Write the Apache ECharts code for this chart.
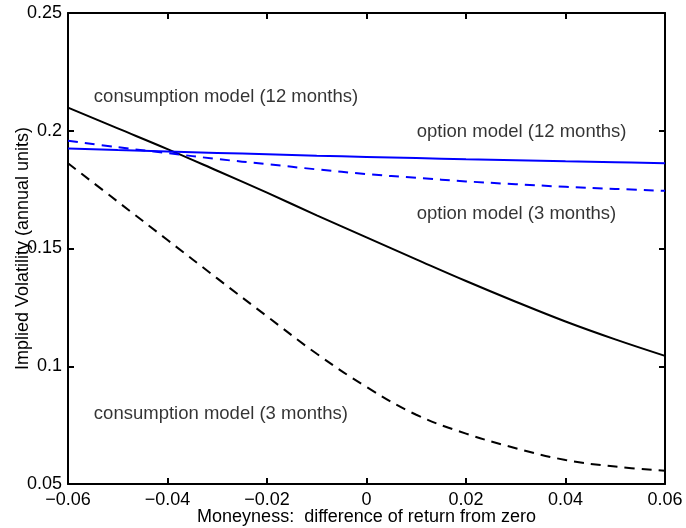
<!DOCTYPE html>
<html>
<head>
<meta charset="utf-8">
<script src="https://cdn.jsdelivr.net/npm/echarts@6/dist/echarts.min.js"></script>
<style>
html,body{margin:0;padding:0;background:#fff;}
#c{width:686px;height:528px;}
</style>
</head>
<body>
<div id="c"></div>
<script>
// ---- data ----
const moneyness = [-0.06, -0.05, -0.04, -0.03, -0.02, -0.01, 0, 0.01, 0.02, 0.03, 0.04, 0.05, 0.06];
const consumption12 = [0.2098, 0.2010, 0.1922, 0.1830, 0.1737, 0.1641, 0.1547, 0.1454, 0.1362, 0.1274, 0.1190, 0.1114, 0.1044];
const consumption3  = [0.1862, 0.1699, 0.1536, 0.1373, 0.1212, 0.1053, 0.0912, 0.0794, 0.0714, 0.0652, 0.0602, 0.0574, 0.0556];
const option12      = [0.1925, 0.1918, 0.1912, 0.1906, 0.1900, 0.1894, 0.1889, 0.1884, 0.1879, 0.1875, 0.1870, 0.1866, 0.1862];
const option3       = [0.1958, 0.1930, 0.1905, 0.1880, 0.1858, 0.1836, 0.1816, 0.1800, 0.1785, 0.1773, 0.1762, 0.1753, 0.1745];
const annotationText = ['consumption model (12 months)', 'option model (12 months)', 'option model (3 months)', 'consumption model (3 months)'];
const annotationX = [-0.0548, 0.0101, 0.0101, -0.0548];
const annotationY = [0.2143, 0.1993, 0.1647, 0.0796];
const xTitle = 'Moneyness:  difference of return from zero';
const yTitle = 'Implied Volatility (annual units)';

const FONT = '"Liberation Sans", Arial, Helvetica, sans-serif';
const FS = 18;
const FS_NOTE = 18.5;

function pairs(ys) { return moneyness.map((x, i) => [x, ys[i]]); }
function fmtTick(v) {
  const r = Math.round(v * 100) / 100;
  return String(r).replace('-', '\u2212');
}

const chart = echarts.init(document.getElementById('c'), null, {renderer: 'canvas'});

const axisLineStyle = {color: '#000', width: 2};
const tickCommon = {show: true, inside: true, length: 6, lineStyle: {color: '#000', width: 2}};

const option = {
  animation: false,
  backgroundColor: '#fff',
  textStyle: {fontFamily: FONT},
  grid: {left: 68, right: 21, top: 13, bottom: 44, containLabel: false, outerBoundsMode: 'none'},
  xAxis: [
    {
      type: 'value', min: -0.06, max: 0.06, interval: 0.02, position: 'bottom',
      name: xTitle, nameLocation: 'middle', nameGap: 24, nameMoveOverlap: false,
      nameTextStyle: {color: '#000', fontSize: FS, fontFamily: FONT},
      axisLine: {show: true, onZero: false, lineStyle: axisLineStyle},
      axisTick: tickCommon,
      axisLabel: {color: '#000', fontSize: FS, fontFamily: FONT, margin: 7, formatter: fmtTick},
      splitLine: {show: false}
    },
    {
      type: 'value', min: -0.06, max: 0.06, interval: 0.02, position: 'top',
      axisLine: {show: true, onZero: false, lineStyle: axisLineStyle},
      axisTick: tickCommon,
      axisLabel: {show: false},
      splitLine: {show: false}
    }
  ],
  yAxis: [
    {
      type: 'value', min: 0.05, max: 0.25, interval: 0.05, position: 'left',
      name: yTitle, nameLocation: 'middle', nameGap: 36, nameRotate: 90, nameMoveOverlap: false,
      nameTextStyle: {color: '#000', fontSize: FS, fontFamily: FONT},
      axisLine: {show: true, onZero: false, lineStyle: axisLineStyle},
      axisTick: tickCommon,
      axisLabel: {color: '#000', fontSize: FS, fontFamily: FONT, margin: 6},
      splitLine: {show: false}
    },
    {
      type: 'value', min: 0.05, max: 0.25, interval: 0.05, position: 'right',
      axisLine: {show: true, onZero: false, lineStyle: axisLineStyle},
      axisTick: tickCommon,
      axisLabel: {show: false},
      splitLine: {show: false}
    }
  ],
  series: [
    {
      name: 'consumption model (12 months)', type: 'line', data: pairs(consumption12),
      symbol: 'none', smooth: 0.4,
      lineStyle: {color: '#000', width: 2, type: 'solid'}
    },
    {
      name: 'consumption model (3 months)', type: 'line', data: pairs(consumption3),
      symbol: 'none', smooth: 0.4,
      lineStyle: {color: '#000', width: 2, type: [10, 7]}
    },
    {
      name: 'option model (12 months)', type: 'line', data: pairs(option12),
      symbol: 'none', smooth: 0.4,
      lineStyle: {color: '#0000ff', width: 2, type: 'solid'}
    },
    {
      name: 'option model (3 months)', type: 'line', data: pairs(option3),
      symbol: 'none', smooth: 0.4,
      lineStyle: {color: '#0000ff', width: 2, type: [10, 7]}
    },
    {
      name: 'annotations', type: 'scatter', symbolSize: 0, silent: true,
      data: annotationText.map((t, i) => ({name: t, value: [annotationX[i], annotationY[i]]})),
      label: {
        show: true, position: [0, 0], align: 'left', verticalAlign: 'middle',
        formatter: '{b}', color: '#000', fontSize: FS_NOTE, fontFamily: FONT
      }
    }
  ]
};
chart.setOption(option);
</script>
</body>
</html>
